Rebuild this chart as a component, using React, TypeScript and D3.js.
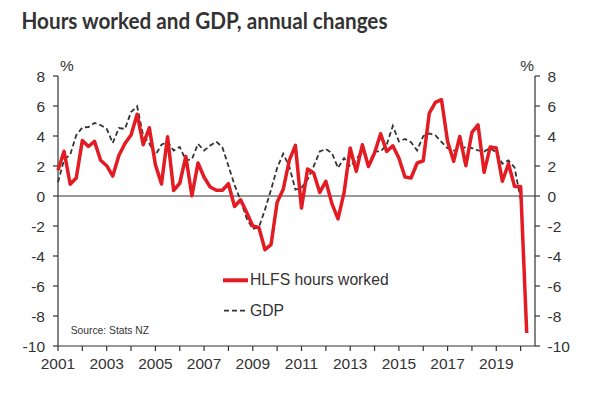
import React from "react";
import * as d3 from "d3";

const startYear = 2001;
const hlfs: number[] = [
  1.72, 2.98, 0.78, 1.2, 3.7, 3.3, 3.64, 2.38, 2.02, 1.33,
  2.7, 3.5, 4.07, 5.45, 3.42, 4.55, 2.09, 0.8, 3.95, 0.37,
  0.85, 2.64, 0.02, 2.2, 1.25, 0.6, 0.38, 0.38, 0.82, -0.7,
  -0.25, -1.1, -2.0, -2.1, -3.58, -3.24, -0.42, 0.45, 2.38, 3.38,
  -0.8, 1.8, 1.53, 0.24, 0.98, -0.51, -1.53, 0.24, 3.2, 1.64,
  3.42, 1.97, 2.87, 4.15, 2.97, 3.35, 2.53, 1.27, 1.2, 2.2,
  2.35, 5.53, 6.24, 6.42, 3.64, 2.31, 3.97, 2.02, 4.24, 4.75,
  1.58, 3.27, 3.2, 0.98, 2.15, 0.64, 0.64, -9.13,
];
const gdp: number[] = [
  0.92, 2.42, 2.75, 4.05, 4.57, 4.6, 4.87, 4.73, 4.48, 3.53,
  4.53, 4.47, 5.6, 5.98, 4.02, 3.5, 2.73, 3.42, 3.62, 3.03,
  3.27, 2.38, 2.45, 3.48, 3.03, 3.36, 3.63, 3.25, 2.0, 0.75,
  -0.3, -1.5, -2.2, -2.09, -0.91, 0.42, 1.87, 2.82, 1.97, 0.42,
  0.55, 1.1, 1.97, 2.97, 3.13, 2.87, 1.87, 2.53, 1.97, 2.42,
  3.09, 2.09, 2.97, 2.97, 3.42, 4.67, 3.64, 3.8, 3.58, 3.04,
  3.99, 4.17, 4.05, 3.6, 3.18, 3.03, 3.1, 3.27, 3.2, 3.04,
  2.97, 3.2, 2.9, 2.15, 2.37, 1.9, -0.2,
];
const yTicks: number[] = [-10, -8, -6, -4, -2, 0, 2, 4, 6, 8];
const xLabelYears: number[] = [2001, 2003, 2005, 2007, 2009, 2011, 2013, 2015, 2017, 2019];
const xMinorYears: number[] = d3.range(2001, 2021);
const title = "Hours worked and GDP, annual changes";
const legendLabels = ["HLFS hours worked", "GDP"];
const sourceText = "Source: Stats NZ";

const W = 597;
const H = 394;
const left = 58;
const right = 535;
const top = 76;
const bottom = 346;

const x = d3.scaleLinear().domain([2001, 2020.59]).range([left, right]);
const y = d3.scaleLinear().domain([-10, 8]).range([bottom, top]);

const line = d3
  .line<number>()
  .x((_, i) => x(startYear + i * 0.25))
  .y((d) => y(d));

const RED = "#e31b23";
const DARK = "#333333";
const FONT = "'Liberation Sans', Arial, sans-serif";

export default function App() {
  return (
    <svg
      width={W}
      height={H}
      style={{ position: "absolute", left: 0, top: 0, background: "#fff" }}
      fontFamily={FONT}
    >
      <rect width={W} height={H} fill="#fff" />
      <text
        x={21.5}
        y={29.3}
        fontFamily="Lato, 'Open Sans', sans-serif"
        fontWeight={700}
        fontSize={22.5}
        fill="#333"
        textLength={366}
        lengthAdjust="spacingAndGlyphs"
      >
        {title}
      </text>

      {/* axes */}
      <line x1={left} x2={left} y1={top} y2={bottom} stroke={DARK} strokeWidth={1.2} />
      <line x1={right} x2={right} y1={top} y2={bottom} stroke={DARK} strokeWidth={1.2} />
      <line x1={left} x2={right} y1={bottom} y2={bottom} stroke={DARK} strokeWidth={1.2} />
      <line x1={left} x2={right} y1={y(0)} y2={y(0)} stroke={DARK} strokeWidth={1.2} />

      {yTicks.map((t) => (
        <g key={"y" + t}>
          <line x1={left - 5} x2={left} y1={y(t)} y2={y(t)} stroke={DARK} strokeWidth={1.2} />
          <line x1={right} x2={right + 5} y1={y(t)} y2={y(t)} stroke={DARK} strokeWidth={1.2} />
          <text x={45} y={y(t)} dy="0.36em" textAnchor="end" fontSize={15.5} fill="#333">
            {t}
          </text>
          <text x={547.5} y={y(t)} dy="0.36em" textAnchor="start" fontSize={15.5} fill="#333">
            {t}
          </text>
        </g>
      ))}
      <text x={60} y={70.7} fontSize={15.5} fill="#333">%</text>
      <text x={534} y={70.7} fontSize={15.5} fill="#333" textAnchor="end">%</text>

      {xMinorYears.map((t) => (
        <line key={"xm" + t} x1={x(t)} x2={x(t)} y1={bottom} y2={bottom + 5} stroke={DARK} strokeWidth={1.2} />
      ))}
      {xLabelYears.map((t) => (
        <text key={"xl" + t} x={x(t)} y={369} textAnchor="middle" fontSize={15.5} fill="#333">
          {t}
        </text>
      ))}

      {/* series */}
      <path d={line(gdp) || ""} fill="none" stroke={DARK} strokeWidth={1.8} strokeDasharray="5,3" />
      <path d={line(hlfs) || ""} fill="none" stroke={RED} strokeWidth={3.5} strokeLinejoin="round" />

      {/* legend */}
      <line x1={223} x2={248} y1={280.3} y2={280.3} stroke={RED} strokeWidth={4} />
      <text x={250} y={285.3} fontSize={15.7} fill="#333">{legendLabels[0]}</text>
      <line x1={224} x2={246} y1={310.7} y2={310.7} stroke={DARK} strokeWidth={1.8} strokeDasharray="5,3" />
      <text x={250} y={315.7} fontSize={15.7} fill="#333">{legendLabels[1]}</text>

      <text x={70.7} y={334} fontSize={10.3} fill="#333">{sourceText}</text>
    </svg>
  );
}
